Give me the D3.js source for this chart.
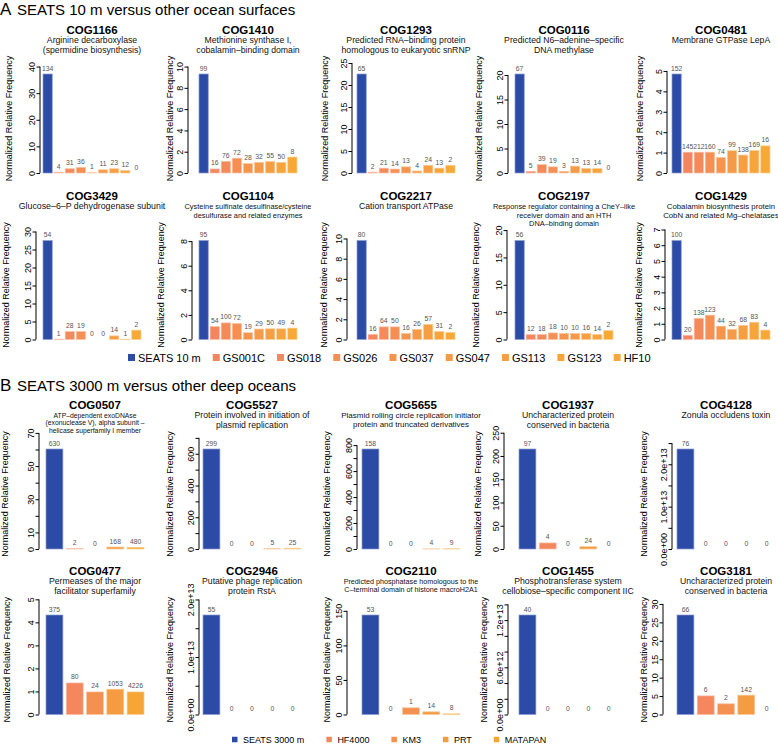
<!DOCTYPE html>
<html>
<head>
<meta charset="utf-8">
<script src="https://cdn.jsdelivr.net/npm/d3@7"></script>
<style>
  body { margin: 0; background: #fff; }
  text { font-family: "Liberation Sans", Arial, Helvetica, sans-serif; }
</style>
</head>
<body>
<script>
// ---- data: panel A (surface) ----
var seriesA = ["SEATS 10 m", "GS001C", "GS018", "GS026", "GS037", "GS047", "GS113", "GS123", "HF10"];
var cogA = ["COG1166", "COG1410", "COG1293", "COG0116", "COG0481",
            "COG3429", "COG1104", "COG2217", "COG2197", "COG1429"];
var descA = [
  ["Arginine decarboxylase", "(spermidine biosynthesis)"],
  ["Methionine synthase I,", "cobalamin–binding domain"],
  ["Predicted RNA–binding protein", "homologous to eukaryotic snRNP"],
  ["Predicted N6–adenine–specific", "DNA methylase"],
  ["Membrane GTPase LepA"],
  ["Glucose–6–P dehydrogenase subunit"],
  ["Cysteine sulfinate desulfinase/cysteine", "desulfurase and related enzymes"],
  ["Cation transport ATPase"],
  ["Response regulator containing a CheY–like", "receiver domain and an HTH", "DNA–binding domain"],
  ["Cobalamin biosynthesis protein", "CobN and related Mg–chelatases"]
];
var valuesA = [
  [37.2, 0.3, 1.6, 2.1, 0.1, 1.2, 1.6, 0.9, 0],
  [9.3, 0.38, 1.1, 1.39, 0.88, 1.0, 1.07, 1.0, 1.5],
  [22.5, 0.2, 1.1, 0.9, 1.4, 0.45, 1.75, 1.1, 1.75],
  [20.2, 0.35, 1.7, 1.25, 0.35, 1.4, 0.9, 0.9, 0],
  [4.85, 1.02, 1.02, 1.02, 0.76, 1.09, 0.88, 1.1, 1.33],
  [27.5, 0.1, 2.2, 2.2, 0, 0, 1.0, 0.1, 2.6],
  [8.05, 1.05, 1.35, 1.3, 0.55, 0.85, 0.87, 0.87, 0.93],
  [9.8, 0.5, 1.25, 1.25, 0.6, 1.0, 1.5, 0.8, 0.7],
  [18.1, 0.9, 0.9, 1.2, 1.1, 1.1, 1.1, 0.9, 1.65],
  [6.3, 0.27, 1.35, 1.55, 0.85, 0.65, 0.9, 1.1, 0.6]
];
var countsA = [
  [134, 4, 31, 36, 1, 11, 23, 12, 0],
  [99, 16, 76, 72, 28, 32, 55, 50, 8],
  [65, 2, 21, 14, 13, 4, 24, 13, 2],
  [67, 5, 39, 19, 3, 13, 13, 14, 0],
  [152, 145, 212, 160, 74, 99, 138, 169, 16],
  [54, 1, 28, 19, 0, 0, 14, 1, 2],
  [95, 54, 100, 72, 19, 29, 50, 49, 4],
  [80, 16, 64, 50, 16, 26, 57, 31, 2],
  [56, 12, 18, 18, 10, 10, 16, 14, 2],
  [100, 20, 138, 123, 44, 32, 68, 83, 4]
];
var ticksA = [
  [0, 10, 20, 30, 40],
  [0, 2, 4, 6, 8, 10],
  [0, 5, 10, 15, 20, 25],
  [0, 5, 10, 15, 20],
  [0, 1, 2, 3, 4, 5],
  [0, 5, 10, 15, 20, 25, 30],
  [0, 2, 4, 6, 8],
  [0, 2, 4, 6, 8, 10],
  [0, 5, 10, 15, 20],
  [0, 1, 2, 3, 4, 5, 6, 7]
];
var tickLabelsA = ticksA.map(function (t) { return t.map(String); });

// ---- data: panel B (deep) ----
var seriesB = ["SEATS 3000 m", "HF4000", "KM3", "PRT", "MATAPAN"];
var cogB = ["COG0507", "COG5527", "COG5655", "COG1937", "COG4128",
            "COG0477", "COG2946", "COG2110", "COG1455", "COG3181"];
var descB = [
  ["ATP–dependent exoDNAse", "(exonuclease V), alpha subunit –", "helicase superfamily I member"],
  ["Protein involved in initiation of", "plasmid replication"],
  ["Plasmid rolling circle replication initiator", "protein and truncated derivatives"],
  ["Uncharacterized protein", "conserved in bacteria"],
  ["Zonula occludens toxin"],
  ["Permeases of the major", "facilitator superfamily"],
  ["Putative phage replication", "protein RstA"],
  ["Predicted phosphatase homologous to the", "C–terminal domain of histone macroH2A1"],
  ["Phosphotransferase system", "cellobiose–specific component IIC"],
  ["Uncharacterized protein", "conserved in bacteria"]
];
var valuesB = [
  [60.3, 0.2, 0, 1.2, 1.0],
  [630, 0, 0, 2, 5],
  [770, 0, 0, 1, 2],
  [215, 13, 0, 5, 0],
  [2.36e13, 0, 0, 0, 0],
  [4.32, 1.37, 0.98, 1.1, 0.98],
  [1.73e13, 0, 0, 0, 0],
  [144, 0, 9.7, 3.9, 1],
  [1.265e13, 0, 0, 0, 0],
  [27, 5.05, 2.9, 5.25, 0]
];
var countsB = [
  [630, 2, 0, 168, 480],
  [299, 0, 0, 5, 25],
  [158, 0, 0, 4, 9],
  [97, 4, 0, 24, 0],
  [76, 0, 0, 0, 0],
  [375, 80, 24, 1053, 4226],
  [55, 0, 0, 0, 0],
  [53, 0, 1, 14, 8],
  [40, 0, 0, 0, 0],
  [66, 6, 2, 142, 0]
];
var ticksB = [
  [0, 10, 20, 30, 40, 50, 60, 70],
  [0, 100, 200, 300, 400, 500, 600, 700],
  [0, 100, 200, 300, 400, 500, 600, 700, 800],
  [0, 50, 100, 150, 200, 250],
  [0, 5e12, 1e13, 1.5e13, 2e13, 2.5e13],
  [0, 1, 2, 3, 4, 5],
  [0, 5e12, 1e13, 1.5e13, 2e13],
  [0, 50, 100, 150],
  [0, 2e12, 4e12, 6e12, 8e12, 1e13, 1.2e13, 1.4e13],
  [0, 5, 10, 15, 20, 25, 30]
];
var tickLabelsB = [
  ["0", "10", "", "30", "", "50", "", "70"],
  ["0", "", "200", "", "400", "", "600", ""],
  ["0", "", "200", "", "400", "", "600", "", "800"],
  ["0", "50", "100", "150", "200", "250"],
  ["0.0e+00", "", "1.0e+13", "", "2.0e+13", ""],
  ["0", "1", "2", "3", "4", "5"],
  ["0.0e+00", "", "1.0e+13", "", "2.0e+13"],
  ["0", "50", "100", "150"],
  ["0.0e+00", "", "", "6.0e+12", "", "", "1.2e+13", ""],
  ["0", "5", "10", "15", "20", "25", "30"]
];

// ---- colours ----
var blue = "#2b4ba6";
var orangeA = d3.quantize(d3.interpolateRgb("#f4855f", "#f6a936"), 8);
var orangeB = d3.quantize(d3.interpolateRgb("#f4875e", "#f6a635"), 4);
var colorsA = [blue].concat(orangeA);
var colorsB = [blue].concat(orangeB);

// ---- layout ----
var barLeftA = [43, 199, 357, 515, 672];
var barLeftB = [46, 203, 362, 519, 677];
var axisXA = [40, 188, 352, 508, 667, 36, 192, 347, 507, 665];
var axisXB = [39, 199, 357, 504, 672, 39, 199, 347, 508, 663];
var ylabXA = [12, 173, 328, 482, 643, 9, 164, 327, 479, 642];
var ylabXB = [8, 173, 330, 481, 647, 10, 173, 330, 487, 647];
var descSizeA = [8.7, 8.7, 8.7, 8.7, 8.7, 8.8, 7.4, 8.7, 7.4, 7.8];
var descSizeB = [6.8, 8.7, 8, 8.7, 8.7, 8.7, 8.7, 7.2, 8.7, 8.7];
var span = 98;

var W = 778, H = 746;
var svg = d3.select("body").append("svg")
  .attr("width", W)
  .attr("height", H);

function drawPanel(p) {
  var g = svg.append("g");
  var n = p.values.length;
  var x = d3.scaleBand()
    .domain(d3.range(n))
    .range([p.barLeft, p.barLeft + span])
    .paddingInner(1 / 6)
    .paddingOuter(0);
  var y = d3.scaleLinear()
    .domain([0, d3.max(p.values)])
    .range([p.baseline, p.baseline - p.barH]);
  var cx = p.barLeft + span / 2;

  // titles
  g.append("text")
    .attr("x", cx).attr("y", p.titleY)
    .attr("text-anchor", "middle")
    .attr("font-weight", "bold")
    .attr("font-size", 11.5)
    .text(p.cog);
  var lh = p.descSize * 1.17;
  p.desc.forEach(function (line, i) {
    g.append("text")
      .attr("x", cx).attr("y", p.titleY + 9 + i * lh)
      .attr("text-anchor", "middle")
      .attr("font-size", p.descSize)
      .attr("fill", "#111")
      .text(line);
  });

  // bars
  g.selectAll("rect.bar").data(p.values).enter().append("rect")
    .attr("class", "bar")
    .attr("x", function (d, i) { return x(i); })
    .attr("width", x.bandwidth())
    .attr("y", function (d) { return y(d); })
    .attr("height", function (d) { return p.baseline - y(d); })
    .attr("fill", function (d, i) { return p.colors[i]; })
    .attr("stroke", function (d, i) { return d3.interpolateRgb(p.colors[i], "#fff")(0.45); })
    .attr("stroke-width", 0.7);

  // counts above bars
  g.selectAll("text.cnt").data(p.counts).enter().append("text")
    .attr("class", "cnt")
    .attr("x", function (d, i) { return x(i) + x.bandwidth() / 2; })
    .attr("y", function (d, i) { return y(p.values[i]) - 3.5; })
    .attr("text-anchor", "middle")
    .attr("font-size", 6.8)
    .attr("fill", "#555")
    .text(function (d) { return d; });

  // y axis
  var ax = g.append("g").attr("transform", "translate(" + p.axisX + ",0)");
  ax.call(d3.axisLeft(y)
    .tickValues(p.ticks)
    .tickSize(3.5)
    .tickSizeOuter(0)
    .tickFormat(function (d, i) { return p.tickLabels[i]; }));
  ax.select(".domain").remove();
  ax.append("line")
    .attr("x1", 0).attr("x2", 0)
    .attr("y1", y(p.ticks[0])).attr("y2", y(p.ticks[p.ticks.length - 1]))
    .attr("stroke", "#000");
  ax.selectAll(".tick line").attr("stroke", "#000");
  ax.selectAll(".tick text")
    .attr("x", 0).attr("y", -5.5).attr("dy", null)
    .attr("transform", "rotate(-90)")
    .attr("text-anchor", "middle")
    .attr("font-family", null)
    .attr("font-size", 9)
    .attr("fill", "#000");

  // y title
  var ymid = p.baseline - p.barH * 0.55;
  g.append("text")
    .attr("transform", "translate(" + p.ylabX + "," + ymid + ") rotate(-90)")
    .attr("text-anchor", "middle")
    .attr("font-size", 9)
    .text("Normalized Relative Frequency");
}

function drawLegend(names, colors, x0, yc, fs, sq, textOff, gap) {
  var g = svg.append("g");
  var x = x0;
  names.forEach(function (nm, i) {
    g.append("rect")
      .attr("x", x).attr("y", yc - sq / 2 - 0.5)
      .attr("width", sq).attr("height", sq)
      .attr("fill", colors[i]);
    var t = g.append("text")
      .attr("x", x + textOff).attr("y", yc + fs * 0.36)
      .attr("font-size", fs)
      .text(nm);
    x += textOff + t.node().getComputedTextLength() + gap;
  });
}

function sectionTitle(letter, label, yb) {
  svg.append("text").attr("x", 0).attr("y", yb)
    .attr("font-size", 17).text(letter);
  svg.append("text").attr("x", 17).attr("y", yb)
    .attr("font-size", 15).text(label);
}

sectionTitle("A", "SEATS 10 m versus other ocean surfaces", 15);
sectionTitle("B", "SEATS 3000 m versus other deep oceans", 391);

var rowsA = [{ baseline: 173, barH: 99, titleY: 33.5 }, { baseline: 339.5, barH: 99, titleY: 200 }];
var rowsB = [{ baseline: 549, barH: 100, titleY: 408.5 }, { baseline: 714.5, barH: 99.5, titleY: 574.5 }];

cogA.forEach(function (cog, k) {
  var r = rowsA[Math.floor(k / 5)], c = k % 5;
  drawPanel({
    cog: cog, desc: descA[k], values: valuesA[k], counts: countsA[k],
    ticks: ticksA[k], tickLabels: tickLabelsA[k], colors: colorsA,
    barLeft: barLeftA[c], axisX: axisXA[k], ylabX: ylabXA[k],
    baseline: r.baseline, barH: r.barH, titleY: r.titleY, descSize: descSizeA[k]
  });
});
cogB.forEach(function (cog, k) {
  var r = rowsB[Math.floor(k / 5)], c = k % 5;
  drawPanel({
    cog: cog, desc: descB[k], values: valuesB[k], counts: countsB[k],
    ticks: ticksB[k], tickLabels: tickLabelsB[k], colors: colorsB,
    barLeft: barLeftB[c], axisX: axisXB[k], ylabX: ylabXB[k],
    baseline: r.baseline, barH: r.barH, titleY: r.titleY, descSize: descSizeB[k]
  });
});

drawLegend(seriesA, colorsA, 128, 358, 11, 7, 10, 12);
drawLegend(seriesB, colorsB, 232, 740, 9, 5.5, 11, 22);
</script>
</body>
</html>
